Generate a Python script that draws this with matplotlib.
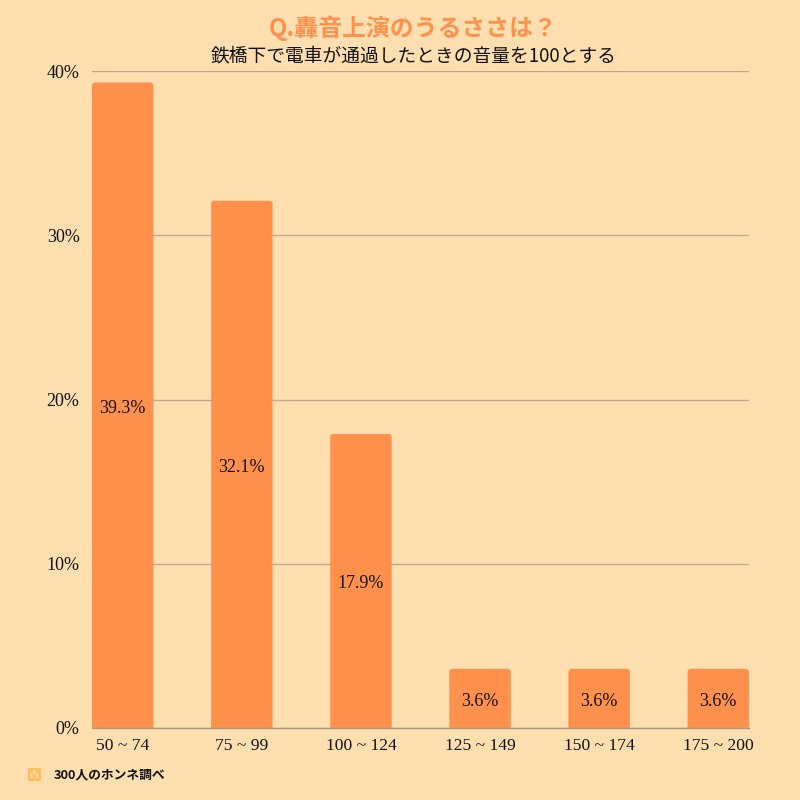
import matplotlib
matplotlib.use("Agg")
import matplotlib.pyplot as plt
from matplotlib.patches import FancyBboxPatch, Rectangle

# donnees
categories = ["50 ~ 74", "75 ~ 99", "100 ~ 124", "125 ~ 149", "150 ~ 174", "175 ~ 200"]
values = [39.3, 32.1, 17.9, 3.6, 3.6, 3.6]
yticks = [0, 10, 20, 30, 40]

BG = "#FFDFB0"
ORANGE = "#FF914D"
GRID = "#BFA988"
JP = ["Noto Sans CJK JP", "DejaVu Sans"]
SERIF = "Liberation Serif"

fig = plt.figure(figsize=(8, 8), dpi=100, facecolor=BG)
ax = fig.add_axes([92 / 800, 1 - 728 / 800, 657 / 800, 657 / 800], facecolor=BG)

ax.set_xlim(-0.258, 5.258)
ax.set_ylim(0, 40)

ax.set_yticks(yticks)
ax.set_yticklabels([f"{v}%" for v in yticks], family=SERIF, fontsize=13, color="#111111")
ax.set_xticks(range(len(categories)))
ax.set_xticklabels(categories, family=SERIF, fontsize=12.6, color="#111111")
ax.tick_params(length=0)
ax.tick_params(axis="y", pad=9, labelsize=13)
ax.tick_params(axis="x", pad=7)
ax.grid(axis="y", color=GRID, linewidth=1)
ax.set_axisbelow(True)
for s in ["top", "right", "left"]:
    ax.spines[s].set_visible(False)
ax.spines["bottom"].set_color("#A89880")
ax.spines["bottom"].set_linewidth(1)

# barres a coins arrondis : le bas depasse sous zero et reste coupe par les axes
w = 0.516
for i, v in enumerate(values):
    bar = FancyBboxPatch((i - w / 2, -2), w, v + 2, boxstyle="round,pad=0,rounding_size=0.025",
                         mutation_aspect=7.26, facecolor=ORANGE, edgecolor="none", zorder=2)
    ax.add_patch(bar)
    ax.annotate(f"{v}%", (i, v / 2), xytext=(0, -2), textcoords="offset points", ha="center", va="center",
                family=SERIF, fontsize=13, color="#111111", zorder=3)

fig.text(0.516, 1 - 28 / 800, "Q.轟音上演のうるささは？", ha="center", va="center",
         family=JP, fontsize=17.2, fontweight="bold", color=ORANGE)
fig.text(0.517, 1 - 56 / 800, "鉄橋下で電車が通過したときの音量を100とする", ha="center", va="center",
         family=JP, fontsize=13.5, color="#111111")

# petit logo du bas
fig.add_artist(Rectangle((28 / 800, 1 - 781 / 800), 13 / 800, 13 / 800, transform=fig.transFigure,
                         facecolor="#FFC061", edgecolor="none"))
fig.text(34.5 / 800, 1 - 774.5 / 800, "3\n3  3", ha="center", va="center", fontsize=4,
         linespacing=1.0, color="white", family=SERIF, fontweight="bold")
fig.text(54 / 800, 1 - 775 / 800, "300人のホンネ調べ", ha="left", va="center",
         family=JP, fontsize=9.2, fontweight="bold", color="#111111")

fig.savefig("out.png", dpi=100, facecolor=BG)
